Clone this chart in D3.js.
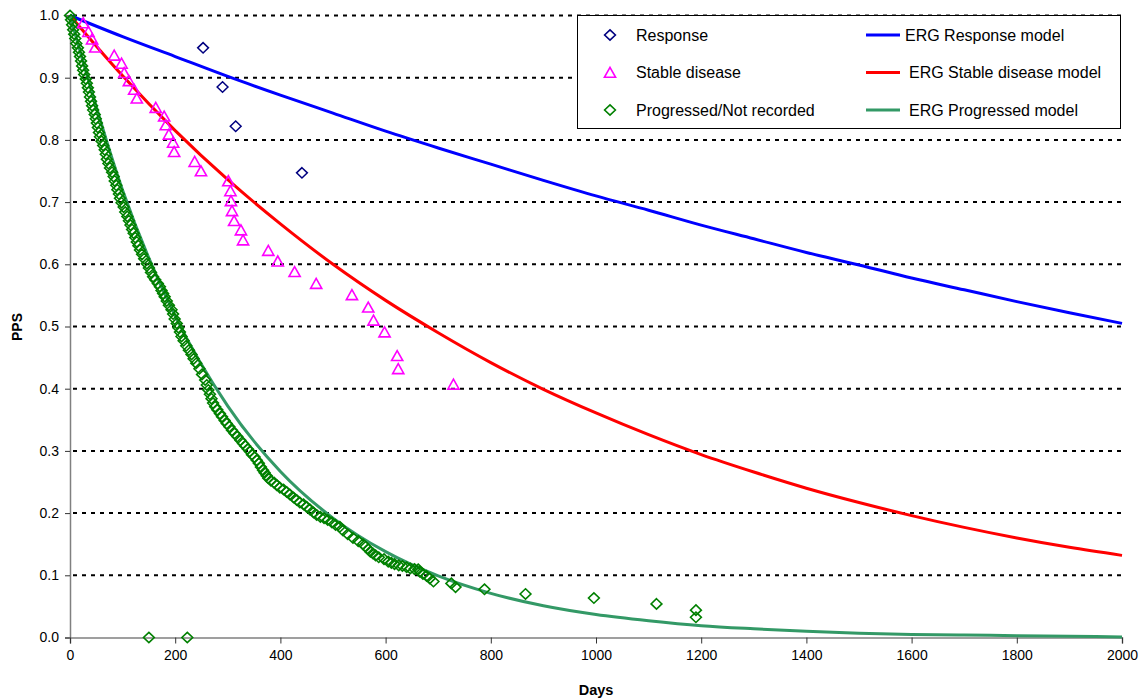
<!DOCTYPE html>
<html>
<head>
<meta charset="utf-8">
<script src="https://cdn.jsdelivr.net/npm/d3@7"></script>
<style>
  body { margin: 0; background: #fff; }
  svg { font-family: "Liberation Sans", Arial, sans-serif; }
</style>
</head>
<body>
<svg id="chart"></svg>
<script>
let w = 1148
let h = 700

// observed points
let respDays = [253, 290, 315, 441]
let respPPS = [0.948, 0.885, 0.822, 0.747]

let stableDays = [25, 35, 42, 48, 84, 98, 103, 112, 122, 127, 163, 179, 182, 188, 196, 198,
  237, 249, 301, 305, 306, 308, 312, 325, 329, 377, 395, 427, 468, 536, 567, 577, 598, 622, 624, 729]
let stablePPS = [0.988, 0.974, 0.962, 0.949, 0.936, 0.923, 0.908, 0.895, 0.881, 0.867, 0.852, 0.838, 0.824, 0.809, 0.796, 0.781,
  0.765, 0.750, 0.734, 0.718, 0.702, 0.686, 0.670, 0.655, 0.639, 0.622, 0.605, 0.588, 0.569, 0.551, 0.531, 0.510, 0.491, 0.453, 0.432, 0.407]

let progDays = [0, 2, 4, 6, 8, 10, 12, 15, 17, 19, 21, 23, 25, 27, 30, 32, 34, 36, 38, 40, 42, 44, 47, 49, 51, 53, 55, 57,
  60, 63, 66, 68, 70, 73, 76, 80, 83, 85, 88, 90, 93, 95, 98, 102, 105, 109, 112, 115, 118, 121, 124, 127, 130, 133,
  137, 141, 146, 150, 154, 158, 162, 167, 171, 174, 177, 180, 184, 188, 193, 196, 199, 203, 206, 209, 212, 216, 221,
  226, 231, 235, 240, 246, 251, 257, 260, 263, 266, 269, 272, 276, 280, 285, 289, 294, 298, 303, 308, 313, 318, 324,
  329, 333, 338, 342, 346, 351, 355, 359, 363, 367, 370, 374, 377, 382, 388, 393, 399, 406, 412, 418, 425, 431, 437,
  444, 450, 456, 463, 469, 476, 483, 490, 498, 505, 513, 519, 528, 538, 548, 557, 562, 567, 571, 576, 581, 587, 597,
  605, 611, 617, 625, 632, 640, 647, 655, 662, 665, 671, 678, 684, 691, 725, 733, 788, 866, 996, 1115, 1190, 1190, 150, 223]
let progPPS = [1.0, 0.993, 0.985, 0.977, 0.970, 0.963, 0.955, 0.948, 0.941, 0.934, 0.927, 0.919, 0.912, 0.905, 0.898, 0.891, 0.884, 0.877, 0.869, 0.862, 0.855, 0.848, 0.841, 0.834, 0.827, 0.820, 0.812, 0.805,
  0.798, 0.791, 0.784, 0.777, 0.769, 0.762, 0.755, 0.748, 0.741, 0.734, 0.727, 0.720, 0.713, 0.706, 0.699, 0.692, 0.684, 0.677, 0.670, 0.663, 0.656, 0.650, 0.643, 0.636, 0.630, 0.623,
  0.616, 0.609, 0.601, 0.594, 0.587, 0.580, 0.575, 0.569, 0.564, 0.558, 0.553, 0.548, 0.541, 0.534, 0.527, 0.520, 0.512, 0.505, 0.498, 0.491, 0.484, 0.477, 0.469,
  0.462, 0.455, 0.448, 0.441, 0.432, 0.423, 0.414, 0.406, 0.398, 0.391, 0.384, 0.377, 0.371, 0.366, 0.360, 0.355, 0.349, 0.344, 0.339, 0.333, 0.328, 0.323, 0.317,
  0.312, 0.308, 0.303, 0.299, 0.294, 0.290, 0.285, 0.280, 0.274, 0.269, 0.265, 0.260, 0.256, 0.252, 0.249, 0.245, 0.241, 0.238, 0.234, 0.230, 0.225, 0.221, 0.217,
  0.214, 0.210, 0.206, 0.201, 0.197, 0.194, 0.192, 0.189, 0.185, 0.181, 0.178, 0.172, 0.166, 0.160, 0.155, 0.150, 0.146, 0.142, 0.138, 0.135, 0.132, 0.129, 0.126,
  0.122, 0.120, 0.118, 0.116, 0.115, 0.113, 0.111, 0.110, 0.1096, 0.106, 0.102, 0.099, 0.095, 0.090, 0.087, 0.081, 0.0775, 0.070, 0.0635, 0.054, 0.044, 0.0325, 0.0, 0.0]

// model curves, read every 100 days
let modelDays = [0, 100, 200, 300, 400, 500, 600, 700, 800, 900, 1000, 1100, 1200, 1300, 1400, 1500, 1600, 1700, 1800, 1900, 2000]
let respModel = [1.000, 0.966, 0.934, 0.902, 0.872, 0.843, 0.814, 0.787, 0.761, 0.735, 0.710, 0.687, 0.663, 0.641, 0.619, 0.599, 0.578, 0.559, 0.540, 0.522, 0.505]
let stableModel = [1.000, 0.903, 0.815, 0.736, 0.665, 0.600, 0.542, 0.490, 0.442, 0.399, 0.361, 0.326, 0.294, 0.266, 0.240, 0.217, 0.196, 0.177, 0.160, 0.145, 0.132]
let progModel = [1.000, 0.719, 0.517, 0.372, 0.267, 0.192, 0.138, 0.099, 0.071, 0.051, 0.037, 0.027, 0.019, 0.014, 0.010, 0.007, 0.005, 0.004, 0.003, 0.002, 0.001]

let xTicks = [0, 200, 400, 600, 800, 1000, 1200, 1400, 1600, 1800, 2000]
let yTicks = [0, 0.1, 0.2, 0.3, 0.4, 0.5, 0.6, 0.7, 0.8, 0.9, 1.0]

let pointNames = ["Response", "Stable disease", "Progressed/Not recorded"]
let modelNames = ["ERG Response model", "ERG Stable disease model", "ERG Progressed model"]
let modelColors = ["#0000ff", "#ff0000", "#339966"]

let diamond = "M0,-5.2L5.4,0L0,5.2L-5.4,0Z"
let triangle = "M0,-5.2L5.6,4.8L-5.6,4.8Z"

let svg = d3.select('#chart')
  .attr('width', w)
  .attr('height', h)

let x = d3.scaleLinear().domain([0, 2000]).range([70, 1122])
let y = d3.scaleLinear().domain([0, 1]).range([637.5, 15.5])

// gridlines
svg.append('g')
  .selectAll('line')
  .data(yTicks.filter(d => d > 0))
  .join('line')
  .attr('x1', x(0) + 3)
  .attr('x2', x(2000))
  .attr('y1', d => y(d))
  .attr('y2', d => y(d))
  .attr('stroke', '#000')
  .attr('stroke-width', 2)
  .attr('stroke-dasharray', '4,5')

// axes
let yAxis = svg.append('g')
  .attr('transform', 'translate(' + x(0) + ',0)')
  .call(d3.axisLeft(y).tickValues(yTicks).tickFormat(d3.format('.1f')).tickSize(5).tickPadding(6))
let xAxis = svg.append('g')
  .attr('transform', 'translate(0,' + y(0) + ')')
  .call(d3.axisBottom(x).tickValues(xTicks).tickFormat(d3.format('d')).tickSize(6).tickPadding(7))

for (let ax of [xAxis, yAxis]) {
  ax.select('.domain').attr('stroke', '#808080').attr('stroke-width', 1.5)
  ax.selectAll('.tick line').attr('stroke', '#333')
  ax.selectAll('.tick text')
    .attr('fill', '#000')
    .style('font-size', '14px')
    .style('font-family', '"Liberation Sans", Arial, sans-serif')
}

svg.append('text')
  .text('Days')
  .attr('x', 596)
  .attr('y', 695)
  .attr('text-anchor', 'middle')
  .style('font-weight', 'bold')
  .style('font-size', '14.5px')

svg.append('text')
  .text('PPS')
  .attr('transform', 'translate(22,327) rotate(-90)')
  .attr('text-anchor', 'middle')
  .style('font-weight', 'bold')
  .style('font-size', '14px')

// model lines
let line = d3.line()
  .x(d => x(d[0]))
  .y(d => y(d[1]))
  .curve(d3.curveMonotoneX)

let models = [respModel, stableModel, progModel]
svg.append('g')
  .selectAll('path')
  .data(models)
  .join('path')
  .attr('d', m => line(modelDays.map((d, i) => [d, m[i]])))
  .attr('fill', 'none')
  .attr('stroke', (m, i) => modelColors[i])
  .attr('stroke-width', 3)

// observed markers
let progPts = progDays.map((d, i) => [d, progPPS[i]])
let stablePts = stableDays.map((d, i) => [d, stablePPS[i]])
let respPts = respDays.map((d, i) => [d, respPPS[i]])

svg.append('g')
  .selectAll('path')
  .data(progPts)
  .join('path')
  .attr('d', diamond)
  .attr('transform', d => 'translate(' + x(d[0]) + ',' + y(d[1]) + ')')
  .attr('fill', 'none')
  .attr('stroke', '#008000')
  .attr('stroke-width', 1.6)

svg.append('g')
  .selectAll('path')
  .data(stablePts)
  .join('path')
  .attr('d', triangle)
  .attr('transform', d => 'translate(' + x(d[0]) + ',' + y(d[1]) + ')')
  .attr('fill', 'none')
  .attr('stroke', '#ff00ff')
  .attr('stroke-width', 1.6)

svg.append('g')
  .selectAll('path')
  .data(respPts)
  .join('path')
  .attr('d', diamond)
  .attr('transform', d => 'translate(' + x(d[0]) + ',' + y(d[1]) + ')')
  .attr('fill', 'none')
  .attr('stroke', '#000080')
  .attr('stroke-width', 1.5)

// legend
let legend = svg.append('g')
legend.append('rect')
  .attr('x', 577.5)
  .attr('y', 15.5)
  .attr('width', 543)
  .attr('height', 113)
  .attr('fill', '#fff')
  .attr('stroke', '#000')
  .attr('stroke-width', 1)

let rowY = [35, 72.5, 110]
let markShapes = [diamond, triangle, diamond]
let markColors = ["#000080", "#ff00ff", "#008000"]

let leftItems = legend.selectAll('g.left')
  .data(pointNames)
  .join('g')
  .attr('class', 'left')
  .attr('transform', (d, i) => 'translate(0,' + rowY[i] + ')')
leftItems.append('path')
  .attr('d', (d, i) => markShapes[i])
  .attr('transform', 'translate(610,0)')
  .attr('fill', 'none')
  .attr('stroke', (d, i) => markColors[i])
  .attr('stroke-width', 1.6)
leftItems.append('text')
  .text(d => d)
  .attr('x', 636)
  .attr('y', 5.5)
  .style('font-size', '16px')

let rightItems = legend.selectAll('g.right')
  .data(modelNames)
  .join('g')
  .attr('class', 'right')
  .attr('transform', (d, i) => 'translate(0,' + rowY[i] + ')')
rightItems.append('line')
  .attr('x1', 866)
  .attr('x2', 900)
  .attr('stroke', (d, i) => modelColors[i])
  .attr('stroke-width', 3)
rightItems.append('text')
  .text(d => d)
  .attr('x', (d, i) => i == 0 ? 905 : 909)
  .attr('y', 5.5)
  .style('font-size', '16px')
</script>
</body>
</html>
